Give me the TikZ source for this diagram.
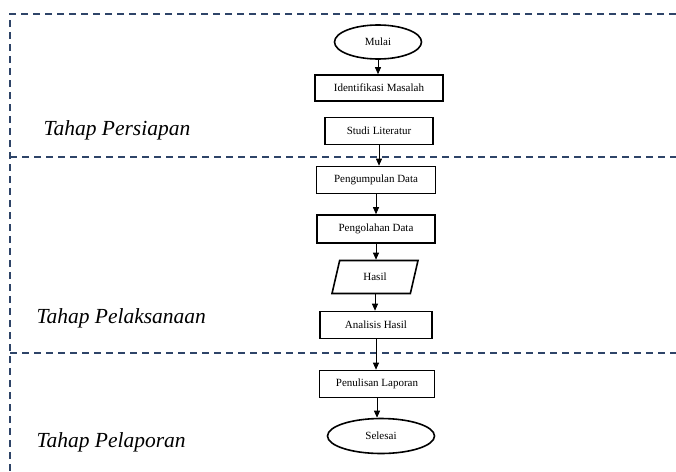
\documentclass[tikz,border=0pt]{standalone}
\usepackage{fontspec}
\setmainfont{Liberation Serif}
\usepackage{xcolor}
\usetikzlibrary{positioning,arrows.meta,shapes.geometric}
\definecolor{ink}{HTML}{000000}
\definecolor{navy}{HTML}{2E4468}

\begin{document}
\begin{tikzpicture}[x=1pt,y=-1pt,
  every node/.style={font=\fontsize{11}{13}\selectfont,text=ink},
  procbox/.style={draw=ink,line width=1.6pt,rectangle,minimum height=27pt,inner sep=0pt},
  termbox/.style={draw=ink,line width=1.6pt,ellipse,inner sep=0pt},
  iobox/.style={draw=ink,line width=1.6pt,trapezium,trapezium left angle=72,trapezium right angle=108,
    trapezium stretches=true,minimum width=86pt,minimum height=33pt,inner sep=0pt},
  flow/.style={-{Triangle[length=7pt,width=6pt]},line width=0.9pt,ink},
  phase/.style={dash pattern=on 7pt off 5pt,line width=1.8pt,navy},
  stage/.style={font=\fontsize{21.5}{26}\selectfont\itshape,anchor=base west}]
  \useasboundingbox (0,0) rectangle (676,471);
  % garis pembatas tahap
  \draw[phase] (676,14) -- (10,14) -- (10,471);
  \draw[phase] (10,157) -- (676,157);
  \draw[phase] (10,353) -- (676,353);
  % diagram alir
  \node[termbox,minimum width=87pt,minimum height=34pt] (mulai) at (378,42) {Mulai};
  \node[procbox,minimum width=128pt,minimum height=26pt] (idmas) at (379,88) {Identifikasi Masalah};
  \node[procbox,minimum width=108pt] (studi) at (379,131) {Studi Literatur};
  \node[procbox,minimum width=119pt] (kumpul) at (376,180) {Pengumpulan Data};
  \node[procbox,minimum width=118pt,minimum height=28pt] (olah) at (376,229) {Pengolahan Data};
  \node[iobox] (hasil) at (375,277) {Hasil};
  \node[procbox,minimum width=112pt] (analisis) at (376,325) {Analisis Hasil};
  \node[procbox,minimum width=115pt] (tulis) at (377,384) {Penulisan Laporan};
  \node[termbox,minimum width=107pt,minimum height=35pt] (selesai) at (381,436) {Selesai};
  \draw[flow] (mulai.south) -- (mulai.south |- idmas.north);
  \draw[flow] (studi.south) -- (studi.south |- kumpul.north);
  \draw[flow] (kumpul) -- (olah);
  \draw[flow] (olah.south) -- (olah.south |- hasil.north);
  \draw[flow] (hasil.south) -- (hasil.south |- analisis.north);
  \draw[flow] (analisis.south) -- (analisis.south |- tulis.north);
  \draw[flow] (tulis.south) -- (tulis.south |- selesai.north);
  % nama tahap
  \node[stage] (persiapan) at (40,135) {Tahap Persiapan};
  \node[stage] (pelaksanaan) at (33,323) {Tahap Pelaksanaan};
  \node[stage] (pelaporan) at (33,447) {Tahap Pelaporan};
\end{tikzpicture}
\end{document}
